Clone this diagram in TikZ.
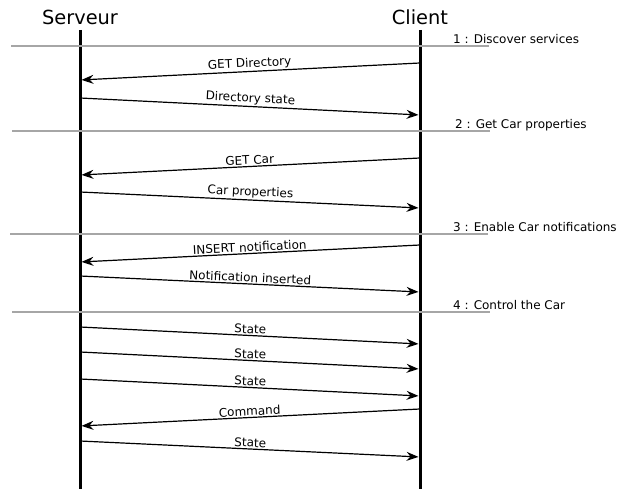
\documentclass[tikz,border=0pt]{standalone}
\usepackage{fontspec}
\setmainfont{DejaVu Sans}
\usetikzlibrary{arrows.meta}
\begin{document}
\begin{tikzpicture}[x=1pt,y=-1pt]
\useasboundingbox (0,0) rectangle (619,489);
\tikzstyle{every node}=[inner sep=0pt, font=\fontsize{12}{14}\selectfont];
\tikzstyle{head}=[font=\fontsize{19.4}{23}\selectfont];
\tikzstyle{lifeline}=[line width=3pt];
\tikzstyle{phaseline}=[draw=gray!70, line width=1.4pt];
\tikzstyle{phaselabel}=[anchor=base west];
\tikzstyle{msg}=[-{Stealth[length=12pt,width=9pt,inset=4pt]}, line width=1.2pt, shorten >=1.5pt];
\tikzstyle{lbl}=[sloped, above, inner sep=1.2pt];

% lifelines
\draw (80,17) node[head]  (serveur) {Serveur};
\draw (420,17) node[head] (client) {Client};
\coordinate (sTop) at (80,30);
\coordinate (sBot) at (80,489);
\coordinate (cTop) at (420,30);
\coordinate (cBot) at (420,489);
\draw[lifeline] (sTop) -- (sBot);
\draw[lifeline] (cTop) -- (cBot);

% phases
\coordinate (p1a) at (11,46);  \coordinate (p1b) at (489,46);
\coordinate (p2a) at (12,131); \coordinate (p2b) at (490,131);
\coordinate (p3a) at (10,234); \coordinate (p3b) at (488,234);
\coordinate (p4a) at (12,312); \coordinate (p4b) at (490,312);
\draw[phaseline] (p1a) -- (p1b);
\draw[phaseline] (p2a) -- (p2b);
\draw[phaseline] (p3a) -- (p3b);
\draw[phaseline] (p4a) -- (p4b);
\draw (453,44)  node[phaselabel] (ph1) {1 : Discover services};
\draw (455,129) node[phaselabel] (ph2) {2 : Get Car properties};
\draw (453,232) node[phaselabel] (ph3) {3 : Enable Car notifications};
\draw (453,310) node[phaselabel] (ph4) {4 : Control the Car};

% message ends
\coordinate (c1) at (420,63);  \coordinate (s1) at (80,80);
\coordinate (s2) at (80,98);   \coordinate (c2) at (420,115);
\coordinate (c3) at (420,158); \coordinate (s3) at (80,175);
\coordinate (s4) at (80,192);  \coordinate (c4) at (420,208);
\coordinate (c5) at (420,245); \coordinate (s5) at (80,262);
\coordinate (s6) at (80,276);  \coordinate (c6) at (420,292);
\coordinate (s7) at (80,327);  \coordinate (c7) at (420,344);
\coordinate (s8) at (80,352);  \coordinate (c8) at (420,369);
\coordinate (s9) at (80,379);  \coordinate (c9) at (420,396);
\coordinate (c10) at (420,409); \coordinate (s10) at (80,426);
\coordinate (s11) at (80,441); \coordinate (c11) at (420,457);

\draw (c1) edge [msg] node[lbl] {GET Directory} (s1);
\draw (s2) edge [msg] node[lbl] {Directory state} (c2);
\draw (c3) edge [msg] node[lbl] {GET Car} (s3);
\draw (s4) edge [msg] node[lbl] {Car properties} (c4);
\draw (c5) edge [msg] node[lbl] {INSERT notification} (s5);
\draw (s6) edge [msg] node[lbl] {Notification inserted} (c6);
\draw (s7) edge [msg] node[lbl] {State} (c7);
\draw (s8) edge [msg] node[lbl] {State} (c8);
\draw (s9) edge [msg] node[lbl] {State} (c9);
\draw (c10) edge [msg] node[lbl] {Command} (s10);
\draw (s11) edge [msg] node[lbl] {State} (c11);
\end{tikzpicture}
\end{document}
